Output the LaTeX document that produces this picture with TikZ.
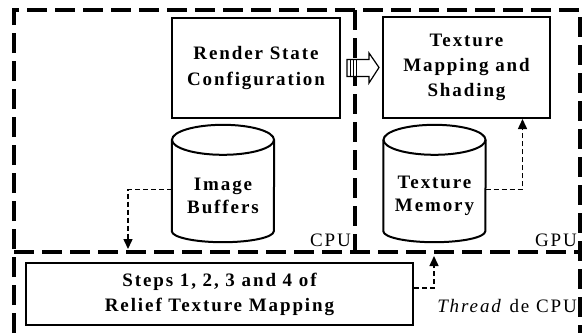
\documentclass[tikz,border=0pt]{standalone}
\usepackage{fontspec}
\setmainfont{Liberation Serif}[LetterSpace=10]
\usepackage{tikz}
\usetikzlibrary{arrows.meta,calc}
\tikzstyle{frame}=[
	dash pattern=on 20pt off 8pt,
	line width=3.5pt
]
\tikzstyle{block}=[
	draw=black,
	line width=2pt,
	align=center,
	inner sep=0pt,
	font=\fontsize{19}{25}\selectfont\bfseries
]
\tikzstyle{store}=[
	minimum width=102pt,
	minimum height=117pt,
	inner sep=0pt
]
\tikzstyle{caption}=[
	inner sep=0pt,
	align=center,
	font=\fontsize{19}{23}\selectfont\bfseries
]
\tikzstyle{tag}=[
	inner sep=0pt,
	font=\fontsize{19}{22}\selectfont
]
\tikzstyle{flow}=[
	dash pattern=on 5pt off 3pt,
	line width=1.5pt,
	-{Triangle[length=10pt,width=9pt]}
]

\begin{document}
\begin{tikzpicture}[x=1pt,y=-1pt]
\useasboundingbox (0,0) rectangle (585,333);

% CPU / GPU regions
\draw[frame] (14,333) -- (14,10) -- (580,10) -- (580,333);
\draw[frame] (14,252) -- (580,252);
\draw[frame] (355,10) -- (355,252);

\node[block, minimum width=168pt, minimum height=100pt] (cfg) at (256,68) {Render State\\Configuration};
\node[block, minimum width=167pt, minimum height=101pt] (map) at (466.5,67.5) {Texture\\Mapping and\\Shading};
\node[store] (bufcyl) at (223,183.5) {};
\node[store] (memcyl) at (434.5,183.5) {};
\node[block, minimum width=387pt, minimum height=62pt] (steps) at (219.5,294) {Steps 1, 2, 3 and 4 of\\Relief Texture Mapping};

% cylinders
\foreach \c in {bufcyl,memcyl} {
  \draw[line width=2pt] ($(\c.north)+(0,15)$) ellipse [x radius=51, y radius=15];
  \draw[line width=2pt] ($(\c.north west)+(0,15)$) -- ($(\c.south west)+(0,-11)$)
    arc[start angle=180, end angle=0, x radius=51, y radius=11] -- ($(\c.north east)+(0,15)$);
}
\node[caption] (buf) at (223,196) {Image\\Buffers};
\node[caption] (mem) at (434.5,196) {Texture\\Memory};

\node[tag, anchor=south east] (cpu) at (351,247) {CPU};
\node[tag, anchor=south east] (gpu) at (577,247) {GPU};
\node[tag, anchor=base east] (thr) at (577,312) {\textit{Thread} de CPU};

\coordinate (cpuin) at (128,249);
\coordinate (gpuin) at (434,256);

% fat arrow
\draw[line width=1.2pt, fill=white] ($(cfg.east)+(6,-8.5)$) -- ++(22,0) -- ++(0,-6.5)
  -- ($(map.west)+(-3,0)$) -- ($(cfg.east)+(28,15)$) -- ++(0,-6.5) -- ($(cfg.east)+(6,8.5)$) -- cycle;
\foreach \dx in {9,12,15}
  \draw[line width=0.8pt] ($(cfg.east)+(\dx,-8.5)$) -- ++(0,17);

\draw[flow] ([yshift=-6pt]bufcyl.west) -| (cpuin);
\draw[flow] ([yshift=-6pt]memcyl.east) -| ([xshift=56pt]map.south);
\draw[flow] ([yshift=6pt]steps.east) -| (gpuin);
\end{tikzpicture}
\end{document}
